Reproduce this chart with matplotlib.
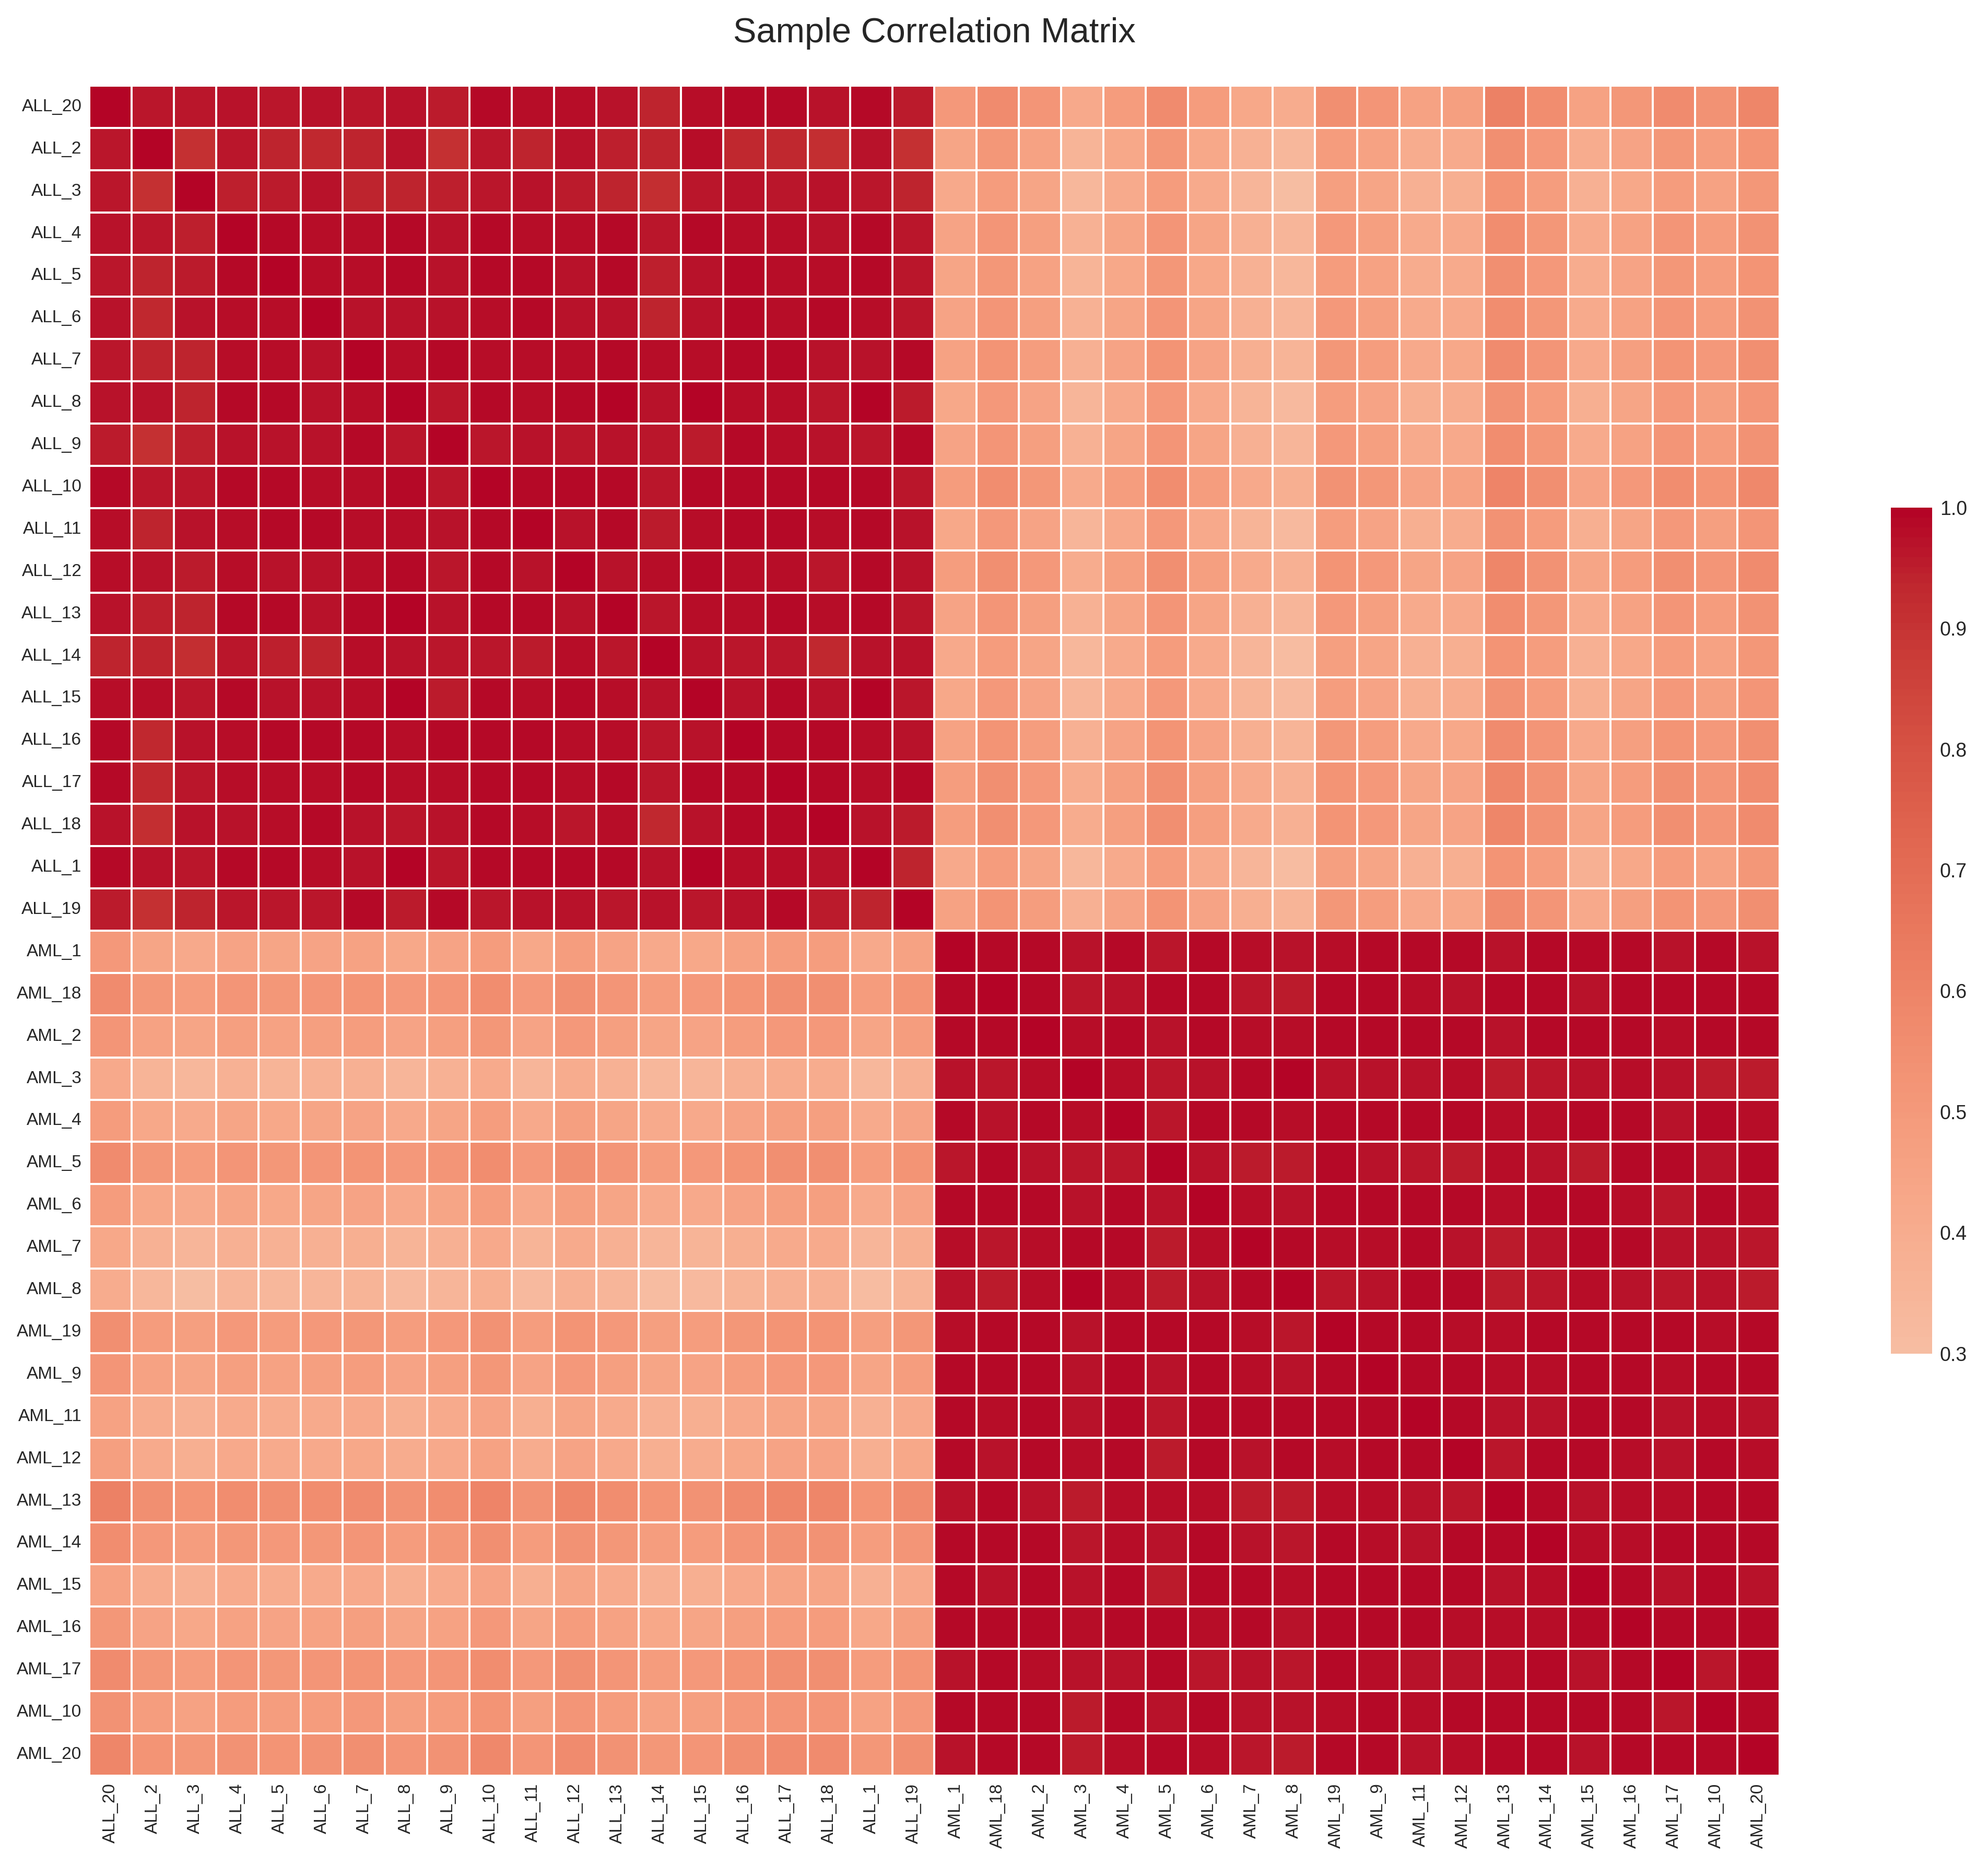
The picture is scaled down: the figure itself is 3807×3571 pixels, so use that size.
import numpy as np
import pandas as pd
import matplotlib
matplotlib.use('Agg')
import matplotlib.pyplot as plt
import seaborn as sns

# sample order as shown on the axes
all_labels = ['ALL_20', 'ALL_2', 'ALL_3', 'ALL_4', 'ALL_5', 'ALL_6', 'ALL_7', 'ALL_8', 'ALL_9', 'ALL_10',
              'ALL_11', 'ALL_12', 'ALL_13', 'ALL_14', 'ALL_15', 'ALL_16', 'ALL_17', 'ALL_18', 'ALL_1', 'ALL_19']
aml_labels = ['AML_1', 'AML_18', 'AML_2', 'AML_3', 'AML_4', 'AML_5', 'AML_6', 'AML_7', 'AML_8', 'AML_19',
              'AML_9', 'AML_11', 'AML_12', 'AML_13', 'AML_14', 'AML_15', 'AML_16', 'AML_17', 'AML_10', 'AML_20']

# ALL x ALL correlations
all_block = [
    [1.0, .96, .96, .975, .965, .975, .96, .97, .955, .99, .98, .98, .975, .94, .98, .985, .985, .97, .985, .955],
    [.96, 1.0, .91, .965, .945, .93, .945, .97, .91, .965, .94, .97, .95, .945, .98, .93, .935, .92, .975, .91],
    [.96, .91, 1.0, .95, .955, .97, .945, .945, .95, .965, .97, .955, .945, .92, .96, .97, .96, .97, .965, .94],
    [.975, .965, .95, 1.0, .99, .98, .98, .99, .975, .99, .98, .98, .99, .96, .99, .98, .98, .975, .985, .965],
    [.965, .945, .955, .99, 1.0, .98, .98, .99, .97, .985, .99, .97, .99, .95, .975, .985, .98, .98, .985, .96],
    [.975, .93, .97, .98, .98, 1.0, .975, .975, .975, .98, .99, .97, .975, .94, .975, .99, .98, .99, .98, .965],
    [.96, .945, .945, .98, .98, .975, 1.0, .98, .985, .98, .98, .98, .985, .98, .98, .985, .985, .97, .975, .985],
    [.97, .97, .945, .99, .99, .975, .98, 1.0, .96, .99, .98, .985, .995, .97, .995, .98, .98, .965, .995, .955],
    [.955, .91, .95, .975, .97, .975, .985, .96, 1.0, .965, .975, .96, .975, .965, .955, .985, .98, .97, .965, .99],
    [.99, .965, .965, .99, .985, .98, .98, .99, .965, 1.0, .99, .985, .99, .965, .99, .985, .99, .985, .99, .96],
    [.98, .94, .97, .98, .99, .99, .98, .98, .975, .99, 1.0, .975, .99, .955, .98, .985, .99, .98, .99, .97],
    [.98, .97, .955, .98, .97, .97, .98, .985, .96, .985, .975, 1.0, .975, .98, .99, .98, .98, .965, .985, .97],
    [.975, .95, .945, .99, .99, .975, .985, .995, .975, .99, .99, .975, 1.0, .965, .98, .98, .99, .98, .985, .965],
    [.94, .945, .92, .96, .95, .94, .98, .97, .965, .965, .955, .98, .965, 1.0, .975, .965, .96, .935, .97, .975],
    [.98, .98, .96, .99, .975, .975, .98, .995, .955, .99, .98, .99, .98, .975, 1.0, .975, .985, .97, .995, .96],
    [.985, .93, .97, .98, .985, .99, .985, .98, .985, .985, .985, .98, .98, .965, .975, 1.0, .99, .985, .98, .975],
    [.985, .935, .96, .98, .98, .98, .985, .98, .98, .99, .99, .98, .99, .96, .985, .99, 1.0, .985, .98, .985],
    [.97, .92, .97, .975, .98, .99, .97, .965, .97, .985, .98, .965, .98, .935, .97, .985, .985, 1.0, .975, .955],
    [.985, .975, .965, .985, .985, .98, .975, .995, .965, .99, .99, .985, .985, .97, .995, .98, .98, .975, 1.0, .945],
    [.955, .91, .94, .965, .96, .965, .985, .955, .99, .96, .97, .97, .965, .975, .96, .975, .985, .955, .945, 1.0],
]

# AML x AML correlations
aml_block = [
    [1.0, .99, .99, .975, .99, .96, .99, .98, .975, .98, .985, .985, .985, .975, .985, .985, .985, .97, .99, .975],
    [.99, 1.0, .99, .965, .975, .99, .99, .965, .955, .99, .99, .98, .975, .99, .99, .975, .99, .985, .99, .99],
    [.99, .99, 1.0, .98, .99, .975, .99, .98, .98, .99, .99, .985, .99, .975, .985, .985, .99, .98, .99, .985],
    [.975, .965, .98, 1.0, .98, .965, .975, .99, .995, .975, .975, .975, .98, .955, .96, .975, .98, .97, .955, .955],
    [.99, .975, .99, .98, 1.0, .965, .99, .99, .98, .985, .99, .985, .99, .98, .98, .99, .985, .975, .985, .98],
    [.96, .99, .975, .965, .965, 1.0, .97, .955, .955, .99, .975, .965, .955, .98, .975, .955, .99, .99, .97, .99],
    [.99, .99, .99, .975, .99, .97, 1.0, .98, .975, .985, .99, .99, .99, .98, .985, .99, .98, .965, .99, .98],
    [.98, .965, .98, .99, .99, .955, .98, 1.0, .99, .98, .98, .99, .975, .955, .97, .985, .99, .97, .975, .96],
    [.975, .955, .98, .995, .98, .955, .975, .99, 1.0, .965, .975, .985, .99, .955, .965, .98, .975, .96, .97, .955],
    [.98, .99, .99, .975, .985, .99, .985, .98, .965, 1.0, .99, .985, .98, .98, .99, .985, .99, .99, .98, .99],
    [.985, .99, .99, .975, .99, .975, .99, .98, .975, .99, 1.0, .99, .985, .98, .98, .99, .99, .98, .985, .985],
    [.985, .98, .985, .975, .985, .965, .99, .99, .985, .985, .99, 1.0, .99, .97, .975, .99, .985, .97, .98, .975],
    [.985, .975, .99, .98, .99, .955, .99, .975, .99, .98, .985, .99, 1.0, .965, .985, .99, .98, .97, .99, .98],
    [.975, .99, .975, .955, .98, .98, .98, .955, .955, .98, .98, .97, .965, 1.0, .99, .975, .98, .98, .99, .99],
    [.985, .99, .985, .96, .98, .975, .985, .97, .965, .99, .98, .975, .985, .99, 1.0, .98, .98, .985, .985, .99],
    [.985, .975, .985, .975, .99, .955, .99, .985, .98, .985, .99, .99, .99, .975, .98, 1.0, .985, .97, .985, .97],
    [.985, .99, .99, .98, .985, .99, .98, .99, .975, .99, .99, .985, .98, .98, .98, .985, 1.0, .985, .985, .985],
    [.97, .985, .98, .97, .975, .99, .965, .97, .96, .99, .98, .97, .97, .98, .985, .97, .985, 1.0, .96, .985],
    [.99, .99, .99, .955, .985, .97, .99, .975, .97, .98, .985, .98, .99, .99, .985, .985, .985, .96, 1.0, .99],
    [.975, .99, .985, .955, .98, .99, .98, .96, .955, .99, .985, .975, .98, .99, .99, .97, .985, .985, .99, 1.0],
]

# ALL rows x AML columns
cross_block = [
    [.50, .57, .52, .42, .49, .57, .49, .43, .40, .55, .52, .46, .47, .61, .56, .46, .51, .57, .54, .59],
    [.44, .51, .46, .36, .43, .51, .43, .37, .34, .49, .46, .40, .41, .55, .50, .40, .45, .51, .48, .53],
    [.42, .49, .44, .34, .41, .49, .41, .35, .30, .47, .44, .38, .39, .53, .48, .38, .43, .49, .46, .51],
    [.45, .52, .47, .37, .44, .52, .44, .38, .35, .50, .47, .41, .42, .56, .51, .41, .46, .52, .49, .54],
    [.44, .51, .46, .36, .43, .51, .43, .37, .34, .49, .46, .40, .41, .55, .50, .40, .45, .51, .48, .53],
    [.45, .52, .47, .37, .44, .52, .44, .38, .35, .50, .47, .41, .42, .56, .51, .41, .46, .52, .49, .54],
    [.46, .53, .48, .38, .45, .53, .45, .39, .36, .51, .48, .42, .43, .57, .52, .42, .47, .53, .50, .55],
    [.43, .50, .45, .35, .42, .50, .42, .36, .33, .48, .45, .39, .40, .54, .49, .39, .44, .50, .47, .52],
    [.45, .52, .47, .37, .44, .52, .44, .38, .35, .50, .47, .41, .42, .56, .51, .41, .46, .52, .49, .54],
    [.49, .56, .51, .41, .48, .56, .48, .42, .39, .54, .51, .45, .46, .60, .55, .45, .50, .56, .53, .58],
    [.43, .50, .45, .35, .42, .50, .42, .36, .33, .48, .45, .39, .40, .54, .49, .39, .44, .50, .47, .52],
    [.48, .55, .50, .40, .47, .55, .47, .41, .38, .53, .50, .44, .45, .59, .54, .44, .49, .55, .52, .57],
    [.45, .52, .47, .37, .44, .52, .44, .38, .35, .50, .47, .41, .42, .56, .51, .41, .46, .52, .49, .54],
    [.42, .49, .44, .34, .41, .49, .41, .35, .31, .47, .44, .38, .39, .53, .48, .38, .43, .49, .46, .51],
    [.43, .50, .45, .35, .42, .50, .42, .36, .33, .48, .45, .39, .40, .54, .49, .39, .44, .50, .47, .52],
    [.46, .53, .48, .38, .45, .53, .45, .39, .36, .51, .48, .42, .43, .57, .52, .42, .47, .53, .50, .55],
    [.48, .55, .50, .40, .47, .55, .47, .41, .38, .53, .50, .44, .45, .59, .54, .44, .49, .55, .52, .57],
    [.48, .55, .50, .40, .47, .55, .47, .41, .38, .53, .50, .44, .45, .59, .54, .44, .49, .55, .52, .57],
    [.42, .49, .44, .34, .41, .49, .41, .35, .31, .47, .44, .38, .39, .53, .48, .38, .43, .49, .46, .51],
    [.46, .53, .48, .38, .45, .53, .45, .39, .36, .51, .48, .42, .43, .57, .52, .42, .47, .53, .50, .55],
]

labels = all_labels + aml_labels
cross = np.array(cross_block)
corr = pd.DataFrame(np.block([[np.array(all_block), cross],
                              [cross.T, np.array(aml_block)]]),
                    index=labels, columns=labels)

sns.set_style('whitegrid')
plt.rcParams['font.family'] = ['Liberation Sans', 'DejaVu Sans']

fig = plt.figure(figsize=(3807 / 300, 3571 / 300), dpi=300)
ax = fig.add_axes([0.0449, 0.0479, 0.8503, 0.9062])
cax = fig.add_axes([0.9512, 0.2742, 0.0208, 0.4537])

sns.heatmap(corr, cmap='coolwarm', center=0, vmin=0.3, vmax=1.0,
            linewidths=0.9, linecolor='white',
            xticklabels=True, yticklabels=True,
            ax=ax, cbar_ax=cax)

ax.set_title('Sample Correlation Matrix', fontsize=16, pad=20)
ax.tick_params(axis='both', labelsize=8, length=0)
plt.setp(ax.get_xticklabels(), rotation=90)
plt.setp(ax.get_yticklabels(), rotation=0)
cax.tick_params(labelsize=9, length=0)

fig.savefig('out.png', dpi=300)
plt.close(fig)
